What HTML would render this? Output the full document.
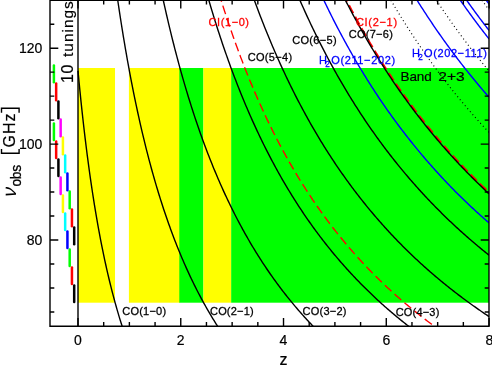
<!DOCTYPE html>
<html><head><meta charset="utf-8"><title>plot</title>
<style>html,body{margin:0;padding:0;background:#fff;}body{width:492px;height:366px;overflow:hidden;}svg{will-change:transform;}</style></head>
<body>
<svg width="492" height="366" viewBox="0 0 492 366" style="display:block;font-family:'Liberation Sans',sans-serif">
<rect width="492" height="366" fill="#fff"/>
<rect x="78.00" y="68.00" width="37.02" height="234.70" fill="#ffff00"/>
<rect x="128.91" y="68.00" width="51.14" height="234.70" fill="#ffff00"/>
<rect x="179.3" y="68.00" width="24.11" height="234.70" fill="#00ff00"/>
<rect x="203.41" y="68.00" width="27.77" height="234.70" fill="#ffff00"/>
<rect x="231.18" y="68.00" width="257.82" height="234.70" fill="#00ff00"/>
<clipPath id="c"><rect x="50.00" y="0" width="439.00" height="326.25"/></clipPath>
<g clip-path="url(#c)" fill="none" stroke-linecap="butt" stroke-linejoin="round">
<path d="M78.00 0 V326.25" stroke="#000" stroke-width="1.4"/>
<path d="M221.14 0.25 L221.19 0.43 L222.22 3.72 L223.25 6.96 L224.28 10.18 L225.32 13.36 L226.35 16.50 L227.38 19.62 L228.41 22.70 L229.44 25.76 L230.47 28.78 L231.50 31.77 L232.53 34.73 L233.56 37.66 L234.59 40.56 L235.62 43.44 L236.65 46.28 L237.68 49.10 L238.71 51.89 L239.74 54.65 L240.77 57.39 L241.80 60.10 L242.83 62.79 L243.86 65.45 L244.89 68.08 L245.92 70.69 L246.95 73.28 L247.98 75.84 L249.01 78.37 L250.04 80.89 L251.07 83.38 L252.10 85.85 L253.13 88.29 L254.16 90.72 L255.19 93.12 L256.22 95.50 L257.25 97.86 L258.28 100.20 L259.31 102.51 L260.34 104.81 L261.37 107.09 L262.40 109.34 L263.43 111.58 L264.46 113.80 L265.49 116.00 L266.52 118.18 L267.55 120.34 L268.58 122.48 L269.61 124.60 L270.64 126.71 L271.67 128.80 L272.70 130.87 L273.73 132.93 L274.76 134.96 L275.79 136.98 L276.82 138.99 L277.85 140.97 L278.88 142.94 L279.91 144.90 L280.94 146.84 L281.97 148.76 L283.00 150.67 L284.04 152.56 L285.07 154.44 L286.10 156.30 L287.13 158.15 L288.16 159.98 L289.19 161.80 L290.22 163.61 L291.25 165.40 L292.28 167.17 L293.31 168.94 L294.34 170.69 L295.37 172.42 L296.40 174.15 L297.43 175.86 L298.46 177.55 L299.49 179.24 L300.52 180.91 L301.55 182.57 L302.58 184.21 L303.61 185.85 L304.64 187.47 L305.67 189.08 L306.70 190.68 L307.73 192.26 L308.76 193.84 L309.79 195.40 L310.82 196.96 L311.85 198.50 L312.88 200.03 L313.91 201.54 L314.94 203.05 L315.97 204.55 L317.00 206.04 L318.03 207.51 L319.06 208.98 L320.09 210.43 L321.12 211.88 L322.15 213.31 L323.18 214.74 L324.21 216.16 L325.24 217.56 L326.27 218.96 L327.30 220.34 L328.33 221.72 L329.36 223.09 L330.39 224.45 L331.42 225.79 L332.45 227.13 L333.48 228.47 L334.51 229.79 L335.54 231.10 L336.57 232.41 L337.60 233.70 L338.63 234.99 L339.66 236.27 L340.69 237.54 L341.72 238.80 L342.76 240.05 L343.79 241.30 L344.82 242.54 L345.85 243.77 L346.88 244.99 L347.91 246.20 L348.94 247.41 L349.97 248.61 L351.00 249.80 L352.03 250.98 L353.06 252.16 L354.09 253.33 L355.12 254.49 L356.15 255.64 L357.18 256.79 L358.21 257.93 L359.24 259.06 L360.27 260.19 L361.30 261.30 L362.33 262.42 L363.36 263.52 L364.39 264.62 L365.42 265.71 L366.45 266.80 L367.48 267.87 L368.51 268.95 L369.54 270.01 L370.57 271.07 L371.60 272.12 L372.63 273.17 L373.66 274.21 L374.69 275.24 L375.72 276.27 L376.75 277.29 L377.78 278.31 L378.81 279.32 L379.84 280.32 L380.87 281.32 L381.90 282.32 L382.93 283.30 L383.96 284.28 L384.99 285.26 L386.02 286.23 L387.05 287.19 L388.08 288.15 L389.11 289.10 L390.14 290.05 L391.17 290.99 L392.20 291.93 L393.23 292.86 L394.26 293.79 L395.29 294.71 L396.32 295.63 L397.35 296.54 L398.38 297.45 L399.41 298.35 L400.44 299.24 L401.48 300.14 L402.51 301.02 L403.54 301.90 L404.57 302.78 L405.60 303.65 L406.63 304.52 L407.66 305.38 L408.69 306.24 L409.72 307.09 L410.75 307.94 L411.78 308.79 L412.81 309.63 L413.84 310.46 L414.87 311.29 L415.90 312.12 L416.93 312.94 L417.96 313.76 L418.99 314.57 L420.02 315.38 L421.05 316.19 L422.08 316.99 L423.11 317.78 L424.14 318.58 L425.17 319.37 L426.20 320.15 L427.23 320.93 L428.26 321.71 L429.29 322.48 L430.32 323.25 L431.35 324.01 L432.38 324.77 L433.41 325.53 L434.44 326.28 L434.48 326.31" stroke="#ff0000" stroke-width="1.35" stroke-dasharray="8.9 4.17" stroke-dashoffset="7.4"/>
<path d="M346.50 0.25 L346.88 0.99 L347.91 2.98 L348.94 4.97 L349.97 6.94 L351.00 8.90 L352.03 10.84 L353.06 12.78 L354.09 14.70 L355.12 16.61 L356.15 18.51 L357.18 20.39 L358.21 22.27 L359.24 24.13 L360.27 25.98 L361.30 27.82 L362.33 29.65 L363.36 31.46 L364.39 33.27 L365.42 35.06 L366.45 36.85 L367.48 38.62 L368.51 40.38 L369.54 42.14 L370.57 43.88 L371.60 45.61 L372.63 47.33 L373.66 49.04 L374.69 50.74 L375.72 52.43 L376.75 54.11 L377.78 55.78 L378.81 57.44 L379.84 59.10 L380.87 60.74 L381.90 62.37 L382.93 63.99 L383.96 65.60 L384.99 67.21 L386.02 68.80 L387.05 70.39 L388.08 71.97 L389.11 73.53 L390.14 75.09 L391.17 76.64 L392.20 78.18 L393.23 79.72 L394.26 81.24 L395.29 82.76 L396.32 84.26 L397.35 85.76 L398.38 87.25 L399.41 88.73 L400.44 90.21 L401.48 91.67 L402.51 93.13 L403.54 94.58 L404.57 96.02 L405.60 97.46 L406.63 98.88 L407.66 100.30 L408.69 101.71 L409.72 103.12 L410.75 104.51 L411.78 105.90 L412.81 107.28 L413.84 108.66 L414.87 110.02 L415.90 111.38 L416.93 112.73 L417.96 114.08 L418.99 115.42 L420.02 116.75 L421.05 118.07 L422.08 119.39 L423.11 120.70 L424.14 122.00 L425.17 123.30 L426.20 124.59 L427.23 125.87 L428.26 127.15 L429.29 128.42 L430.32 129.68 L431.35 130.94 L432.38 132.19 L433.41 133.43 L434.44 134.67 L435.47 135.90 L436.50 137.13 L437.53 138.35 L438.56 139.56 L439.59 140.77 L440.62 141.97 L441.65 143.17 L442.68 144.36 L443.71 145.54 L444.74 146.72 L445.77 147.89 L446.80 149.06 L447.83 150.22 L448.86 151.37 L449.89 152.52 L450.92 153.66 L451.95 154.80 L452.98 155.94 L454.01 157.06 L455.04 158.18 L456.07 159.30 L457.10 160.41 L458.13 161.52 L459.16 162.62 L460.20 163.71 L461.23 164.80 L462.26 165.89 L463.29 166.97 L464.32 168.04 L465.35 169.11 L466.38 170.18 L467.41 171.24 L468.44 172.29 L469.47 173.34 L470.50 174.39 L471.53 175.43 L472.56 176.46 L473.59 177.49 L474.62 178.52 L475.65 179.54 L476.68 180.56 L477.71 181.57 L478.74 182.58 L479.77 183.58 L480.80 184.58 L481.83 185.57 L482.86 186.56 L483.89 187.54 L484.92 188.52 L485.95 189.50 L486.98 190.47 L488.01 191.44 L489.04 192.40 L489.04 192.40" stroke="#ff0000" stroke-width="1.9" stroke-dasharray="8.9 4.17" stroke-dashoffset="7.4"/>
<path d="M78.00 70.88 L79.03 81.74 L80.06 92.19 L81.09 102.24 L82.12 111.91 L83.15 121.24 L84.18 130.23 L85.21 138.90 L86.24 147.28 L87.27 155.37 L88.30 163.19 L89.33 170.75 L90.36 178.07 L91.39 185.16 L92.42 192.02 L93.45 198.67 L94.48 205.12 L95.51 211.38 L96.54 217.45 L97.57 223.35 L98.60 229.08 L99.63 234.65 L100.66 240.06 L101.69 245.32 L102.72 250.44 L103.75 255.42 L104.78 260.28 L105.81 265.00 L106.84 269.61 L107.88 274.10 L108.91 278.47 L109.94 282.74 L110.97 286.90 L112.00 290.96 L113.03 294.93 L114.06 298.80 L115.09 302.59 L116.12 306.28 L117.15 309.89 L118.18 313.42 L119.21 316.87 L120.24 320.25 L121.27 323.55 L122.15 326.31" stroke="#000" stroke-width="1.4"/>
<path d="M117.74 0.25 L118.18 3.25 L119.21 10.16 L120.24 16.91 L121.27 23.51 L122.30 29.97 L123.33 36.29 L124.36 42.48 L125.39 48.55 L126.42 54.48 L127.45 60.30 L128.48 65.99 L129.51 71.58 L130.54 77.05 L131.57 82.41 L132.60 87.67 L133.63 92.83 L134.66 97.90 L135.69 102.86 L136.72 107.73 L137.75 112.51 L138.78 117.21 L139.81 121.82 L140.84 126.34 L141.87 130.79 L142.90 135.15 L143.93 139.44 L144.96 143.66 L145.99 147.80 L147.02 151.87 L148.05 155.87 L149.08 159.81 L150.11 163.68 L151.14 167.48 L152.17 171.22 L153.20 174.91 L154.23 178.53 L155.26 182.09 L156.29 185.60 L157.32 189.05 L158.35 192.45 L159.38 195.80 L160.41 199.09 L161.44 202.33 L162.47 205.53 L163.50 208.67 L164.53 211.77 L165.56 214.83 L166.60 217.84 L167.63 220.80 L168.66 223.72 L169.69 226.60 L170.72 229.44 L171.75 232.24 L172.78 235.00 L173.81 237.72 L174.84 240.40 L175.87 243.04 L176.90 245.65 L177.93 248.22 L178.96 250.76 L179.99 253.27 L181.02 255.74 L182.05 258.18 L183.08 260.58 L184.11 262.96 L185.14 265.30 L186.17 267.61 L187.20 269.90 L188.23 272.15 L189.26 274.38 L190.29 276.58 L191.32 278.75 L192.35 280.89 L193.38 283.01 L194.41 285.10 L195.44 287.16 L196.47 289.21 L197.50 291.22 L198.53 293.21 L199.56 295.18 L200.59 297.13 L201.62 299.05 L202.65 300.95 L203.68 302.82 L204.71 304.68 L205.74 306.51 L206.77 308.33 L207.80 310.12 L208.83 311.89 L209.86 313.64 L210.89 315.38 L211.92 317.09 L212.95 318.79 L213.98 320.46 L215.01 322.12 L216.04 323.76 L217.07 325.38 L217.67 326.31" stroke="#000" stroke-width="1.4"/>
<path d="M163.29 0.25 L163.50 1.23 L164.53 5.88 L165.56 10.46 L166.60 14.97 L167.63 19.42 L168.66 23.80 L169.69 28.12 L170.72 32.38 L171.75 36.57 L172.78 40.71 L173.81 44.79 L174.84 48.81 L175.87 52.78 L176.90 56.69 L177.93 60.55 L178.96 64.36 L179.99 68.12 L181.02 71.82 L182.05 75.48 L183.08 79.09 L184.11 82.65 L185.14 86.17 L186.17 89.64 L187.20 93.06 L188.23 96.45 L189.26 99.78 L190.29 103.08 L191.32 106.34 L192.35 109.55 L193.38 112.73 L194.41 115.87 L195.44 118.96 L196.47 122.02 L197.50 125.05 L198.53 128.04 L199.56 130.99 L200.59 133.90 L201.62 136.79 L202.65 139.64 L203.68 142.45 L204.71 145.24 L205.74 147.99 L206.77 150.71 L207.80 153.39 L208.83 156.05 L209.86 158.68 L210.89 161.28 L211.92 163.85 L212.95 166.39 L213.98 168.91 L215.01 171.39 L216.04 173.85 L217.07 176.29 L218.10 178.69 L219.13 181.07 L220.16 183.43 L221.19 185.76 L222.22 188.06 L223.25 190.35 L224.28 192.60 L225.32 194.84 L226.35 197.05 L227.38 199.24 L228.41 201.41 L229.44 203.55 L230.47 205.67 L231.50 207.77 L232.53 209.85 L233.56 211.91 L234.59 213.95 L235.62 215.97 L236.65 217.97 L237.68 219.95 L238.71 221.91 L239.74 223.85 L240.77 225.78 L241.80 227.68 L242.83 229.57 L243.86 231.44 L244.89 233.29 L245.92 235.12 L246.95 236.94 L247.98 238.74 L249.01 240.52 L250.04 242.29 L251.07 244.04 L252.10 245.77 L253.13 247.49 L254.16 249.19 L255.19 250.88 L256.22 252.55 L257.25 254.21 L258.28 255.85 L259.31 257.48 L260.34 259.09 L261.37 260.69 L262.40 262.28 L263.43 263.85 L264.46 265.41 L265.49 266.95 L266.52 268.49 L267.55 270.00 L268.58 271.51 L269.61 273.00 L270.64 274.48 L271.67 275.95 L272.70 277.41 L273.73 278.85 L274.76 280.28 L275.79 281.70 L276.82 283.11 L277.85 284.50 L278.88 285.89 L279.91 287.26 L280.94 288.62 L281.97 289.97 L283.00 291.32 L284.04 292.65 L285.07 293.96 L286.10 295.27 L287.13 296.57 L288.16 297.86 L289.19 299.14 L290.22 300.41 L291.25 301.66 L292.28 302.91 L293.31 304.15 L294.34 305.38 L295.37 306.60 L296.40 307.81 L297.43 309.01 L298.46 310.20 L299.49 311.39 L300.52 312.56 L301.55 313.73 L302.58 314.88 L303.61 316.03 L304.64 317.17 L305.67 318.30 L306.70 319.43 L307.73 320.54 L308.76 321.65 L309.79 322.75 L310.82 323.84 L311.85 324.92 L312.88 325.99 L313.18 326.31" stroke="#000" stroke-width="1.4"/>
<path d="M208.84 0.25 L209.86 3.74 L210.89 7.20 L211.92 10.63 L212.95 14.02 L213.98 17.37 L215.01 20.68 L216.04 23.96 L217.07 27.21 L218.10 30.42 L219.13 33.59 L220.16 36.73 L221.19 39.84 L222.22 42.91 L223.25 45.95 L224.28 48.96 L225.32 51.94 L226.35 54.89 L227.38 57.81 L228.41 60.70 L229.44 63.56 L230.47 66.39 L231.50 69.19 L232.53 71.96 L233.56 74.71 L234.59 77.43 L235.62 80.12 L236.65 82.79 L237.68 85.43 L238.71 88.04 L239.74 90.63 L240.77 93.19 L241.80 95.73 L242.83 98.25 L243.86 100.74 L244.89 103.21 L245.92 105.65 L246.95 108.07 L247.98 110.47 L249.01 112.85 L250.04 115.20 L251.07 117.54 L252.10 119.85 L253.13 122.14 L254.16 124.41 L255.19 126.66 L256.22 128.89 L257.25 131.10 L258.28 133.29 L259.31 135.46 L260.34 137.61 L261.37 139.75 L262.40 141.86 L263.43 143.96 L264.46 146.03 L265.49 148.09 L266.52 150.13 L267.55 152.16 L268.58 154.17 L269.61 156.16 L270.64 158.13 L271.67 160.09 L272.70 162.03 L273.73 163.95 L274.76 165.86 L275.79 167.75 L276.82 169.63 L277.85 171.49 L278.88 173.34 L279.91 175.17 L280.94 176.98 L281.97 178.79 L283.00 180.57 L284.04 182.35 L285.07 184.11 L286.10 185.85 L287.13 187.58 L288.16 189.30 L289.19 191.00 L290.22 192.69 L291.25 194.37 L292.28 196.04 L293.31 197.69 L294.34 199.33 L295.37 200.95 L296.40 202.57 L297.43 204.17 L298.46 205.76 L299.49 207.33 L300.52 208.90 L301.55 210.45 L302.58 212.00 L303.61 213.53 L304.64 215.05 L305.67 216.56 L306.70 218.05 L307.73 219.54 L308.76 221.01 L309.79 222.48 L310.82 223.93 L311.85 225.38 L312.88 226.81 L313.91 228.23 L314.94 229.64 L315.97 231.05 L317.00 232.44 L318.03 233.82 L319.06 235.20 L320.09 236.56 L321.12 237.91 L322.15 239.26 L323.18 240.59 L324.21 241.92 L325.24 243.24 L326.27 244.54 L327.30 245.84 L328.33 247.13 L329.36 248.41 L330.39 249.68 L331.42 250.95 L332.45 252.20 L333.48 253.45 L334.51 254.69 L335.54 255.92 L336.57 257.14 L337.60 258.36 L338.63 259.56 L339.66 260.76 L340.69 261.95 L341.72 263.13 L342.76 264.31 L343.79 265.47 L344.82 266.63 L345.85 267.78 L346.88 268.93 L347.91 270.07 L348.94 271.20 L349.97 272.32 L351.00 273.43 L352.03 274.54 L353.06 275.64 L354.09 276.74 L355.12 277.83 L356.15 278.91 L357.18 279.98 L358.21 281.05 L359.24 282.11 L360.27 283.17 L361.30 284.21 L362.33 285.25 L363.36 286.29 L364.39 287.32 L365.42 288.34 L366.45 289.36 L367.48 290.37 L368.51 291.37 L369.54 292.37 L370.57 293.36 L371.60 294.35 L372.63 295.33 L373.66 296.30 L374.69 297.27 L375.72 298.23 L376.75 299.19 L377.78 300.14 L378.81 301.09 L379.84 302.03 L380.87 302.97 L381.90 303.90 L382.93 304.82 L383.96 305.74 L384.99 306.65 L386.02 307.56 L387.05 308.46 L388.08 309.36 L389.11 310.26 L390.14 311.14 L391.17 312.03 L392.20 312.90 L393.23 313.78 L394.26 314.65 L395.29 315.51 L396.32 316.37 L397.35 317.22 L398.38 318.07 L399.41 318.91 L400.44 319.75 L401.48 320.59 L402.51 321.42 L403.54 322.25 L404.57 323.07 L405.60 323.88 L406.63 324.70 L407.66 325.50 L408.69 326.31 L408.69 326.31" stroke="#000" stroke-width="1.4"/>
<path d="M254.38 0.25 L255.19 2.46 L256.22 5.25 L257.25 8.01 L258.28 10.75 L259.31 13.46 L260.34 16.15 L261.37 18.82 L262.40 21.46 L263.43 24.08 L264.46 26.68 L265.49 29.25 L266.52 31.80 L267.55 34.33 L268.58 36.84 L269.61 39.33 L270.64 41.80 L271.67 44.24 L272.70 46.67 L273.73 49.07 L274.76 51.46 L275.79 53.82 L276.82 56.17 L277.85 58.50 L278.88 60.80 L279.91 63.09 L280.94 65.36 L281.97 67.61 L283.00 69.85 L284.04 72.06 L285.07 74.26 L286.10 76.44 L287.13 78.61 L288.16 80.75 L289.19 82.88 L290.22 85.00 L291.25 87.09 L292.28 89.17 L293.31 91.24 L294.34 93.29 L295.37 95.32 L296.40 97.34 L297.43 99.34 L298.46 101.33 L299.49 103.30 L300.52 105.26 L301.55 107.20 L302.58 109.13 L303.61 111.04 L304.64 112.94 L305.67 114.82 L306.70 116.69 L307.73 118.55 L308.76 120.40 L309.79 122.23 L310.82 124.04 L311.85 125.85 L312.88 127.64 L313.91 129.42 L314.94 131.18 L315.97 132.94 L317.00 134.68 L318.03 136.41 L319.06 138.12 L320.09 139.83 L321.12 141.52 L322.15 143.20 L323.18 144.87 L324.21 146.53 L325.24 148.17 L326.27 149.81 L327.30 151.43 L328.33 153.04 L329.36 154.64 L330.39 156.23 L331.42 157.81 L332.45 159.38 L333.48 160.94 L334.51 162.49 L335.54 164.03 L336.57 165.55 L337.60 167.07 L338.63 168.58 L339.66 170.08 L340.69 171.56 L341.72 173.04 L342.76 174.51 L343.79 175.97 L344.82 177.42 L345.85 178.86 L346.88 180.29 L347.91 181.71 L348.94 183.12 L349.97 184.52 L351.00 185.92 L352.03 187.30 L353.06 188.68 L354.09 190.05 L355.12 191.41 L356.15 192.76 L357.18 194.10 L358.21 195.44 L359.24 196.76 L360.27 198.08 L361.30 199.39 L362.33 200.69 L363.36 201.99 L364.39 203.27 L365.42 204.55 L366.45 205.82 L367.48 207.08 L368.51 208.34 L369.54 209.59 L370.57 210.83 L371.60 212.06 L372.63 213.28 L373.66 214.50 L374.69 215.71 L375.72 216.92 L376.75 218.11 L377.78 219.30 L378.81 220.49 L379.84 221.66 L380.87 222.83 L381.90 223.99 L382.93 225.15 L383.96 226.30 L384.99 227.44 L386.02 228.57 L387.05 229.70 L388.08 230.83 L389.11 231.94 L390.14 233.05 L391.17 234.15 L392.20 235.25 L393.23 236.34 L394.26 237.43 L395.29 238.51 L396.32 239.58 L397.35 240.65 L398.38 241.71 L399.41 242.76 L400.44 243.81 L401.48 244.86 L402.51 245.90 L403.54 246.93 L404.57 247.95 L405.60 248.98 L406.63 249.99 L407.66 251.00 L408.69 252.01 L409.72 253.01 L410.75 254.00 L411.78 254.99 L412.81 255.97 L413.84 256.95 L414.87 257.92 L415.90 258.89 L416.93 259.85 L417.96 260.81 L418.99 261.76 L420.02 262.71 L421.05 263.65 L422.08 264.59 L423.11 265.52 L424.14 266.45 L425.17 267.37 L426.20 268.29 L427.23 269.21 L428.26 270.12 L429.29 271.02 L430.32 271.92 L431.35 272.81 L432.38 273.71 L433.41 274.59 L434.44 275.47 L435.47 276.35 L436.50 277.22 L437.53 278.09 L438.56 278.96 L439.59 279.81 L440.62 280.67 L441.65 281.52 L442.68 282.37 L443.71 283.21 L444.74 284.05 L445.77 284.88 L446.80 285.71 L447.83 286.54 L448.86 287.36 L449.89 288.18 L450.92 289.00 L451.95 289.81 L452.98 290.61 L454.01 291.42 L455.04 292.21 L456.07 293.01 L457.10 293.80 L458.13 294.59 L459.16 295.37 L460.20 296.15 L461.23 296.93 L462.26 297.70 L463.29 298.47 L464.32 299.23 L465.35 300.00 L466.38 300.75 L467.41 301.51 L468.44 302.26 L469.47 303.01 L470.50 303.75 L471.53 304.49 L472.56 305.23 L473.59 305.96 L474.62 306.69 L475.65 307.42 L476.68 308.14 L477.71 308.86 L478.74 309.58 L479.77 310.30 L480.80 311.01 L481.83 311.71 L482.86 312.42 L483.89 313.12 L484.92 313.82 L485.95 314.51 L486.98 315.20 L488.01 315.89 L489.04 316.58 L489.04 316.58" stroke="#000" stroke-width="1.4"/>
<path d="M299.91 0.25 L300.52 1.63 L301.55 3.96 L302.58 6.27 L303.61 8.57 L304.64 10.85 L305.67 13.11 L306.70 15.36 L307.73 17.59 L308.76 19.80 L309.79 21.99 L310.82 24.18 L311.85 26.34 L312.88 28.49 L313.91 30.62 L314.94 32.74 L315.97 34.85 L317.00 36.93 L318.03 39.01 L319.06 41.07 L320.09 43.11 L321.12 45.14 L322.15 47.16 L323.18 49.16 L324.21 51.15 L325.24 53.13 L326.27 55.09 L327.30 57.03 L328.33 58.97 L329.36 60.89 L330.39 62.80 L331.42 64.69 L332.45 66.58 L333.48 68.45 L334.51 70.30 L335.54 72.15 L336.57 73.98 L337.60 75.80 L338.63 77.61 L339.66 79.41 L340.69 81.19 L341.72 82.97 L342.76 84.73 L343.79 86.48 L344.82 88.22 L345.85 89.95 L346.88 91.66 L347.91 93.37 L348.94 95.06 L349.97 96.75 L351.00 98.42 L352.03 100.08 L353.06 101.73 L354.09 103.38 L355.12 105.01 L356.15 106.63 L357.18 108.24 L358.21 109.84 L359.24 111.43 L360.27 113.01 L361.30 114.59 L362.33 116.15 L363.36 117.70 L364.39 119.24 L365.42 120.78 L366.45 122.30 L367.48 123.82 L368.51 125.32 L369.54 126.82 L370.57 128.31 L371.60 129.79 L372.63 131.26 L373.66 132.72 L374.69 134.17 L375.72 135.61 L376.75 137.05 L377.78 138.48 L378.81 139.90 L379.84 141.31 L380.87 142.71 L381.90 144.10 L382.93 145.49 L383.96 146.87 L384.99 148.24 L386.02 149.60 L387.05 150.96 L388.08 152.30 L389.11 153.64 L390.14 154.97 L391.17 156.30 L392.20 157.62 L393.23 158.93 L394.26 160.23 L395.29 161.52 L396.32 162.81 L397.35 164.09 L398.38 165.36 L399.41 166.63 L400.44 167.89 L401.48 169.14 L402.51 170.39 L403.54 171.63 L404.57 172.86 L405.60 174.08 L406.63 175.30 L407.66 176.51 L408.69 177.72 L409.72 178.92 L410.75 180.11 L411.78 181.30 L412.81 182.48 L413.84 183.65 L414.87 184.82 L415.90 185.98 L416.93 187.13 L417.96 188.28 L418.99 189.43 L420.02 190.56 L421.05 191.69 L422.08 192.82 L423.11 193.94 L424.14 195.05 L425.17 196.16 L426.20 197.26 L427.23 198.36 L428.26 199.45 L429.29 200.53 L430.32 201.61 L431.35 202.69 L432.38 203.76 L433.41 204.82 L434.44 205.88 L435.47 206.93 L436.50 207.98 L437.53 209.02 L438.56 210.06 L439.59 211.09 L440.62 212.11 L441.65 213.13 L442.68 214.15 L443.71 215.16 L444.74 216.17 L445.77 217.17 L446.80 218.17 L447.83 219.16 L448.86 220.14 L449.89 221.13 L450.92 222.10 L451.95 223.08 L452.98 224.04 L454.01 225.01 L455.04 225.97 L456.07 226.92 L457.10 227.87 L458.13 228.81 L459.16 229.75 L460.20 230.69 L461.23 231.62 L462.26 232.55 L463.29 233.47 L464.32 234.39 L465.35 235.30 L466.38 236.21 L467.41 237.12 L468.44 238.02 L469.47 238.92 L470.50 239.81 L471.53 240.70 L472.56 241.58 L473.59 242.46 L474.62 243.34 L475.65 244.21 L476.68 245.08 L477.71 245.94 L478.74 246.80 L479.77 247.66 L480.80 248.51 L481.83 249.36 L482.86 250.21 L483.89 251.05 L484.92 251.89 L485.95 252.72 L486.98 253.55 L488.01 254.38 L489.04 255.20 L489.04 255.20" stroke="#000" stroke-width="1.4"/>
<path d="M345.43 0.25 L345.85 1.05 L346.88 3.06 L347.91 5.05 L348.94 7.02 L349.97 8.99 L351.00 10.94 L352.03 12.88 L353.06 14.81 L354.09 16.72 L355.12 18.63 L356.15 20.52 L357.18 22.40 L358.21 24.26 L359.24 26.12 L360.27 27.96 L361.30 29.80 L362.33 31.62 L363.36 33.43 L364.39 35.23 L365.42 37.02 L366.45 38.80 L367.48 40.57 L368.51 42.32 L369.54 44.07 L370.57 45.80 L371.60 47.53 L372.63 49.25 L373.66 50.95 L374.69 52.65 L375.72 54.33 L376.75 56.01 L377.78 57.67 L378.81 59.33 L379.84 60.97 L380.87 62.61 L381.90 64.23 L382.93 65.85 L383.96 67.46 L384.99 69.06 L386.02 70.65 L387.05 72.23 L388.08 73.80 L389.11 75.36 L390.14 76.92 L391.17 78.46 L392.20 80.00 L393.23 81.52 L394.26 83.04 L395.29 84.55 L396.32 86.06 L397.35 87.55 L398.38 89.03 L399.41 90.51 L400.44 91.98 L401.48 93.44 L402.51 94.89 L403.54 96.34 L404.57 97.78 L405.60 99.21 L406.63 100.63 L407.66 102.04 L408.69 103.45 L409.72 104.85 L410.75 106.24 L411.78 107.62 L412.81 109.00 L413.84 110.37 L414.87 111.73 L415.90 113.08 L416.93 114.43 L417.96 115.77 L418.99 117.10 L420.02 118.43 L421.05 119.75 L422.08 121.06 L423.11 122.37 L424.14 123.67 L425.17 124.96 L426.20 126.25 L427.23 127.52 L428.26 128.80 L429.29 130.06 L430.32 131.32 L431.35 132.58 L432.38 133.82 L433.41 135.06 L434.44 136.30 L435.47 137.52 L436.50 138.75 L437.53 139.96 L438.56 141.17 L439.59 142.37 L440.62 143.57 L441.65 144.76 L442.68 145.95 L443.71 147.13 L444.74 148.30 L445.77 149.47 L446.80 150.63 L447.83 151.79 L448.86 152.94 L449.89 154.09 L450.92 155.23 L451.95 156.36 L452.98 157.49 L454.01 158.61 L455.04 159.73 L456.07 160.84 L457.10 161.95 L458.13 163.05 L459.16 164.15 L460.20 165.24 L461.23 166.33 L462.26 167.41 L463.29 168.49 L464.32 169.56 L465.35 170.62 L466.38 171.68 L467.41 172.74 L468.44 173.79 L469.47 174.84 L470.50 175.88 L471.53 176.92 L472.56 177.95 L473.59 178.98 L474.62 180.00 L475.65 181.02 L476.68 182.03 L477.71 183.04 L478.74 184.04 L479.77 185.04 L480.80 186.04 L481.83 187.03 L482.86 188.01 L483.89 188.99 L484.92 189.97 L485.95 190.94 L486.98 191.91 L488.01 192.87 L489.04 193.83 L489.04 193.83" stroke="#000" stroke-width="1.4"/>
<path d="M390.94 0.25 L391.17 0.64 L392.20 2.40 L393.23 4.14 L394.26 5.88 L395.29 7.61 L396.32 9.32 L397.35 11.03 L398.38 12.73 L399.41 14.41 L400.44 16.09 L401.48 17.76 L402.51 19.42 L403.54 21.07 L404.57 22.72 L405.60 24.35 L406.63 25.97 L407.66 27.59 L408.69 29.20 L409.72 30.80 L410.75 32.39 L411.78 33.97 L412.81 35.54 L413.84 37.10 L414.87 38.66 L415.90 40.21 L416.93 41.75 L417.96 43.28 L418.99 44.80 L420.02 46.32 L421.05 47.83 L422.08 49.33 L423.11 50.82 L424.14 52.30 L425.17 53.78 L426.20 55.25 L427.23 56.71 L428.26 58.16 L429.29 59.61 L430.32 61.05 L431.35 62.48 L432.38 63.91 L433.41 65.32 L434.44 66.73 L435.47 68.14 L436.50 69.53 L437.53 70.92 L438.56 72.31 L439.59 73.68 L440.62 75.05 L441.65 76.41 L442.68 77.77 L443.71 79.11 L444.74 80.45 L445.77 81.79 L446.80 83.12 L447.83 84.44 L448.86 85.76 L449.89 87.06 L450.92 88.37 L451.95 89.66 L452.98 90.95 L454.01 92.24 L455.04 93.52 L456.07 94.79 L457.10 96.05 L458.13 97.31 L459.16 98.57 L460.20 99.81 L461.23 101.05 L462.26 102.29 L463.29 103.52 L464.32 104.74 L465.35 105.96 L466.38 107.17 L467.41 108.38 L468.44 109.58 L469.47 110.78 L470.50 111.97 L471.53 113.15 L472.56 114.33 L473.59 115.51 L474.62 116.67 L475.65 117.84 L476.68 119.00 L477.71 120.15 L478.74 121.30 L479.77 122.44 L480.80 123.57 L481.83 124.71 L482.86 125.83 L483.89 126.95 L484.92 128.07 L485.95 129.18 L486.98 130.29 L488.01 131.39 L489.04 132.49 L489.04 132.49" stroke="#000" stroke-width="1.15" stroke-dasharray="1.0 2.9"/>
<path d="M436.44 0.25 L436.50 0.34 L437.53 1.91 L438.56 3.46 L439.59 5.01 L440.62 6.55 L441.65 8.08 L442.68 9.60 L443.71 11.12 L444.74 12.63 L445.77 14.13 L446.80 15.62 L447.83 17.11 L448.86 18.59 L449.89 20.06 L450.92 21.53 L451.95 22.99 L452.98 24.44 L454.01 25.88 L455.04 27.32 L456.07 28.75 L457.10 30.17 L458.13 31.59 L459.16 33.00 L460.20 34.40 L461.23 35.80 L462.26 37.19 L463.29 38.57 L464.32 39.95 L465.35 41.32 L466.38 42.68 L467.41 44.04 L468.44 45.39 L469.47 46.74 L470.50 48.08 L471.53 49.41 L472.56 50.74 L473.59 52.06 L474.62 53.37 L475.65 54.68 L476.68 55.98 L477.71 57.28 L478.74 58.57 L479.77 59.85 L480.80 61.13 L481.83 62.40 L482.86 63.67 L483.89 64.93 L484.92 66.19 L485.95 67.44 L486.98 68.68 L488.01 69.92 L489.04 71.16 L489.04 71.16" stroke="#000" stroke-width="1.15" stroke-dasharray="1.0 2.9"/>
<path d="M481.92 0.25 L482.86 1.53 L483.89 2.93 L484.92 4.33 L485.95 5.72 L486.98 7.10 L488.01 8.48 L489.04 9.85 L489.04 9.85" stroke="#000" stroke-width="1.15" stroke-dasharray="1.0 2.9"/>
<path d="M323.85 0.25 L324.21 1.02 L325.24 3.16 L326.27 5.30 L327.30 7.41 L328.33 9.52 L329.36 11.61 L330.39 13.68 L331.42 15.74 L332.45 17.79 L333.48 19.83 L334.51 21.85 L335.54 23.85 L336.57 25.85 L337.60 27.83 L338.63 29.79 L339.66 31.75 L340.69 33.69 L341.72 35.62 L342.76 37.53 L343.79 39.44 L344.82 41.33 L345.85 43.21 L346.88 45.07 L347.91 46.93 L348.94 48.77 L349.97 50.60 L351.00 52.42 L352.03 54.23 L353.06 56.03 L354.09 57.81 L355.12 59.59 L356.15 61.35 L357.18 63.10 L358.21 64.85 L359.24 66.58 L360.27 68.30 L361.30 70.01 L362.33 71.70 L363.36 73.39 L364.39 75.07 L365.42 76.74 L366.45 78.40 L367.48 80.04 L368.51 81.68 L369.54 83.31 L370.57 84.93 L371.60 86.54 L372.63 88.14 L373.66 89.72 L374.69 91.31 L375.72 92.88 L376.75 94.44 L377.78 95.99 L378.81 97.53 L379.84 99.07 L380.87 100.59 L381.90 102.11 L382.93 103.62 L383.96 105.12 L384.99 106.61 L386.02 108.09 L387.05 109.56 L388.08 111.03 L389.11 112.48 L390.14 113.93 L391.17 115.37 L392.20 116.80 L393.23 118.23 L394.26 119.64 L395.29 121.05 L396.32 122.45 L397.35 123.85 L398.38 125.23 L399.41 126.61 L400.44 127.98 L401.48 129.34 L402.51 130.69 L403.54 132.04 L404.57 133.38 L405.60 134.71 L406.63 136.04 L407.66 137.36 L408.69 138.67 L409.72 139.97 L410.75 141.27 L411.78 142.56 L412.81 143.84 L413.84 145.12 L414.87 146.39 L415.90 147.65 L416.93 148.91 L417.96 150.16 L418.99 151.40 L420.02 152.64 L421.05 153.87 L422.08 155.09 L423.11 156.31 L424.14 157.52 L425.17 158.72 L426.20 159.92 L427.23 161.11 L428.26 162.30 L429.29 163.48 L430.32 164.65 L431.35 165.82 L432.38 166.99 L433.41 168.14 L434.44 169.29 L435.47 170.44 L436.50 171.58 L437.53 172.71 L438.56 173.84 L439.59 174.96 L440.62 176.07 L441.65 177.19 L442.68 178.29 L443.71 179.39 L444.74 180.49 L445.77 181.57 L446.80 182.66 L447.83 183.74 L448.86 184.81 L449.89 185.88 L450.92 186.94 L451.95 188.00 L452.98 189.05 L454.01 190.10 L455.04 191.14 L456.07 192.18 L457.10 193.21 L458.13 194.24 L459.16 195.26 L460.20 196.28 L461.23 197.29 L462.26 198.30 L463.29 199.30 L464.32 200.30 L465.35 201.29 L466.38 202.28 L467.41 203.27 L468.44 204.25 L469.47 205.22 L470.50 206.20 L471.53 207.16 L472.56 208.12 L473.59 209.08 L474.62 210.03 L475.65 210.98 L476.68 211.93 L477.71 212.87 L478.74 213.80 L479.77 214.74 L480.80 215.66 L481.83 216.59 L482.86 217.51 L483.89 218.42 L484.92 219.33 L485.95 220.24 L486.98 221.14 L488.01 222.04 L489.04 222.93 L489.04 222.93" stroke="#0000ff" stroke-width="1.4"/>
<path d="M417.08 0.25 L417.96 1.65 L418.99 3.28 L420.02 4.91 L421.05 6.52 L422.08 8.13 L423.11 9.73 L424.14 11.32 L425.17 12.90 L426.20 14.48 L427.23 16.04 L428.26 17.60 L429.29 19.15 L430.32 20.70 L431.35 22.23 L432.38 23.76 L433.41 25.28 L434.44 26.79 L435.47 28.29 L436.50 29.79 L437.53 31.28 L438.56 32.76 L439.59 34.23 L440.62 35.70 L441.65 37.16 L442.68 38.61 L443.71 40.05 L444.74 41.49 L445.77 42.92 L446.80 44.35 L447.83 45.76 L448.86 47.17 L449.89 48.58 L450.92 49.97 L451.95 51.36 L452.98 52.74 L454.01 54.12 L455.04 55.49 L456.07 56.85 L457.10 58.21 L458.13 59.56 L459.16 60.90 L460.20 62.24 L461.23 63.57 L462.26 64.89 L463.29 66.21 L464.32 67.52 L465.35 68.83 L466.38 70.13 L467.41 71.42 L468.44 72.71 L469.47 73.99 L470.50 75.27 L471.53 76.54 L472.56 77.80 L473.59 79.06 L474.62 80.31 L475.65 81.56 L476.68 82.80 L477.71 84.03 L478.74 85.26 L479.77 86.49 L480.80 87.70 L481.83 88.92 L482.86 90.12 L483.89 91.33 L484.92 92.52 L485.95 93.71 L486.98 94.90 L488.01 96.08 L489.04 97.25 L489.04 97.25" stroke="#0000ff" stroke-width="1.4"/>
<path d="M460.33 0.25 L461.23 1.53 L462.26 3.00 L463.29 4.47 L464.32 5.92 L465.35 7.37 L466.38 8.82 L467.41 10.25 L468.44 11.68 L469.47 13.11 L470.50 14.52 L471.53 15.93 L472.56 17.34 L473.59 18.74 L474.62 20.13 L475.65 21.51 L476.68 22.89 L477.71 24.26 L478.74 25.63 L479.77 26.99 L480.80 28.34 L481.83 29.69 L482.86 31.03 L483.89 32.36 L484.92 33.69 L485.95 35.01 L486.98 36.33 L488.01 37.64 L489.04 38.95 L489.04 38.95" stroke="#0000ff" stroke-width="1.4"/>
<path d="M466.65 0.25 L467.41 1.32 L468.44 2.77 L469.47 4.22 L470.50 5.66 L471.53 7.09 L472.56 8.51 L473.59 9.93 L474.62 11.34 L475.65 12.74 L476.68 14.14 L477.71 15.53 L478.74 16.92 L479.77 18.30 L480.80 19.67 L481.83 21.04 L482.86 22.40 L483.89 23.75 L484.92 25.10 L485.95 26.44 L486.98 27.78 L488.01 29.11 L489.04 30.44 L489.04 30.44" stroke="#0000ff" stroke-width="1.4"/>
<path d="M486.24 0.25 L486.98 1.25 L488.01 2.64 L489.04 4.03 L489.04 4.03" stroke="#0000ff" stroke-width="1.4"/>
</g>
<g stroke-width="2.5" stroke-linecap="round" fill="none">
<path d="M53.90 65.60 V82.20" stroke="#00ff00"/>
<path d="M53.90 123.40 V140.00" stroke="#00ff00"/>
<path d="M56.16 83.60 V100.20" stroke="#ff0000"/>
<path d="M56.16 141.40 V158.00" stroke="#ff0000"/>
<path d="M58.41 101.60 V118.20" stroke="#000000"/>
<path d="M58.41 159.40 V176.00" stroke="#000000"/>
<path d="M60.66 119.60 V136.20" stroke="#ff00ff"/>
<path d="M60.66 177.40 V194.00" stroke="#ff00ff"/>
<path d="M62.92 137.60 V154.20" stroke="#ffff00"/>
<path d="M62.92 195.40 V212.00" stroke="#ffff00"/>
<path d="M65.17 155.60 V172.20" stroke="#00ffff"/>
<path d="M65.17 213.40 V230.00" stroke="#00ffff"/>
<path d="M67.43 173.60 V190.20" stroke="#0000ff"/>
<path d="M67.43 231.40 V248.00" stroke="#0000ff"/>
<path d="M69.69 191.60 V208.20" stroke="#00ff00"/>
<path d="M69.69 249.40 V266.00" stroke="#00ff00"/>
<path d="M71.94 209.60 V226.20" stroke="#ff0000"/>
<path d="M71.94 267.40 V284.00" stroke="#ff0000"/>
<path d="M74.19 227.60 V244.20" stroke="#000000"/>
<path d="M74.19 285.40 V302.00" stroke="#000000"/>
</g>
<g stroke="#000" stroke-width="1.4" fill="none">
<path d="M50.00 0.30 H489.00 V326.25 H50.00 Z"/>
<path d="M78.00 326.25 v-8.3 M78.00 0.30 v8.3 M103.69 326.25 v-4.3 M103.69 0.30 v4.3 M129.38 326.25 v-4.3 M129.38 0.30 v4.3 M155.07 326.25 v-4.3 M155.07 0.30 v4.3 M180.76 326.25 v-8.3 M180.76 0.30 v8.3 M206.45 326.25 v-4.3 M206.45 0.30 v4.3 M232.14 326.25 v-4.3 M232.14 0.30 v4.3 M257.83 326.25 v-4.3 M257.83 0.30 v4.3 M283.52 326.25 v-8.3 M283.52 0.30 v8.3 M309.21 326.25 v-4.3 M309.21 0.30 v4.3 M334.90 326.25 v-4.3 M334.90 0.30 v4.3 M360.59 326.25 v-4.3 M360.59 0.30 v4.3 M386.28 326.25 v-8.3 M386.28 0.30 v8.3 M411.97 326.25 v-4.3 M411.97 0.30 v4.3 M437.66 326.25 v-4.3 M437.66 0.30 v4.3 M463.35 326.25 v-4.3 M463.35 0.30 v4.3 M489.04 326.25 v-8.3 M489.04 0.30 v8.3 M50.00 311.93 h4.3 M489.00 311.93 h-4.3 M50.00 287.95 h4.3 M489.00 287.95 h-4.3 M50.00 263.98 h4.3 M489.00 263.98 h-4.3 M50.00 240.00 h8.3 M489.00 240.00 h-8.3 M50.00 216.03 h4.3 M489.00 216.03 h-4.3 M50.00 192.05 h4.3 M489.00 192.05 h-4.3 M50.00 168.07 h4.3 M489.00 168.07 h-4.3 M50.00 144.10 h8.3 M489.00 144.10 h-8.3 M50.00 120.12 h4.3 M489.00 120.12 h-4.3 M50.00 96.15 h4.3 M489.00 96.15 h-4.3 M50.00 72.17 h4.3 M489.00 72.17 h-4.3 M50.00 48.20 h8.3 M489.00 48.20 h-8.3 M50.00 24.23 h4.3 M489.00 24.23 h-4.3"/>
</g>
<g font-size="14" fill="#000" stroke="#000" stroke-width="0.2">
<text x="78.00" y="345.2" text-anchor="middle">0</text>
<text x="180.76" y="345.2" text-anchor="middle">2</text>
<text x="283.52" y="345.2" text-anchor="middle">4</text>
<text x="386.28" y="345.2" text-anchor="middle">6</text>
<text x="489.44" y="345.2" text-anchor="middle">8</text>
<text x="42.3" y="244.90" text-anchor="end">80</text>
<text x="42.3" y="149.00" text-anchor="end">100</text>
<text x="42.3" y="53.10" text-anchor="end">120</text>
</g>
<text x="283.6" y="365" font-size="16" text-anchor="middle" stroke="#000" stroke-width="0.2">z</text>
<path d="M1.5 148.9 V153.3 H19.1 V148.9 M1.5 112.8 V108.2 H19.1 V112.8" fill="none" stroke="#000" stroke-width="1.4"/>
<text transform="translate(14.8 147.6) rotate(-90)" font-size="16" textLength="34.2" lengthAdjust="spacing" stroke="#000" stroke-width="0.2">GHz</text>
<text transform="translate(16.4 197.6) rotate(-90) skewX(-6)" font-size="19.5" font-style="italic">ν</text>
<text transform="translate(20.7 186.6) rotate(-90)" font-size="13.8" textLength="21.8" lengthAdjust="spacing" stroke="#000" stroke-width="0.3">obs</text>
<text transform="translate(72.8 82.9) rotate(-90)" font-size="16" textLength="18.3" lengthAdjust="spacing" stroke="#000" stroke-width="0.2">10</text>
<text transform="translate(72.8 56.9) rotate(-90)" font-size="15.4" textLength="55.6" lengthAdjust="spacing" stroke="#000" stroke-width="0.2">tunings</text>
<g stroke-width="0.27" font-size="11">
<text x="122.30" y="315.30" fill="#000" stroke="#000" textLength="43.8" lengthAdjust="spacing">CO(1−0)</text>
<text x="210.00" y="315.30" fill="#000" stroke="#000" textLength="43.6" lengthAdjust="spacing">CO(2−1)</text>
<text x="302.60" y="315.30" fill="#000" stroke="#000" textLength="43.8" lengthAdjust="spacing">CO(3−2)</text>
<text x="395.70" y="315.80" fill="#000" stroke="#000" textLength="43.6" lengthAdjust="spacing">CO(4−3)</text>
<text x="247.70" y="61.20" fill="#000" stroke="#000" textLength="44.4" lengthAdjust="spacing">CO(5−4)</text>
<text x="292.20" y="44.40" fill="#000" stroke="#000" textLength="44.4" lengthAdjust="spacing">CO(6−5)</text>
<text x="348.80" y="37.90" fill="#000" stroke="#000" textLength="44.0" lengthAdjust="spacing">CO(7−6)</text>
<text x="208.60" y="25.50" fill="#ff0000" stroke="#ff0000" textLength="40.4" lengthAdjust="spacing">CI(1−0)</text>
<text x="355.90" y="25.60" fill="#ff0000" stroke="#ff0000" textLength="41.2" lengthAdjust="spacing">CI(2−1)</text>
<text x="319.00" y="63.80" fill="#0000ff" stroke="#0000ff">H</text>
<text x="325.30" y="66.70" font-size="8.2" fill="#0000ff" stroke="#0000ff">2</text>
<text x="331.20" y="63.80" fill="#0000ff" stroke="#0000ff" textLength="63.9" lengthAdjust="spacing">O(211−202)</text>
<text x="411.90" y="56.80" fill="#0000ff" stroke="#0000ff">H</text>
<text x="418.20" y="59.70" font-size="8.2" fill="#0000ff" stroke="#0000ff">2</text>
<text x="424.10" y="56.80" fill="#0000ff" stroke="#0000ff" textLength="62.7" lengthAdjust="spacing">O(202−111)</text>
<text x="400.50" y="80.80" font-size="13.5" stroke-width="0.2" fill="#000" stroke="#000" textLength="31.2" lengthAdjust="spacing">Band</text>
<text x="438.30" y="80.80" font-size="13.5" stroke-width="0.2" fill="#000" stroke="#000" textLength="26.4" lengthAdjust="spacingAndGlyphs">2+3</text>
</g>
</svg>
</body></html>
